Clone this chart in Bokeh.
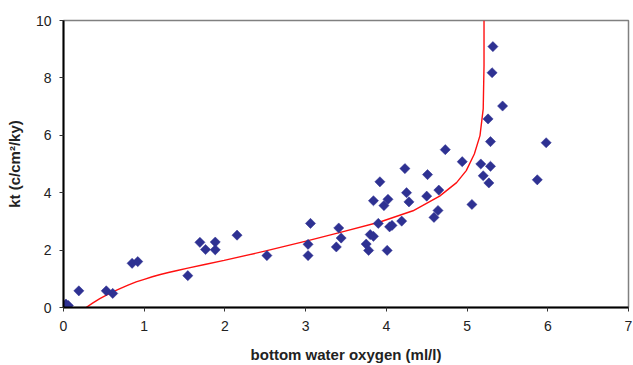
import numpy as np
from bokeh.plotting import figure
from bokeh.models import Range1d, FixedTicker, ColumnDataSource
from bokeh.embed import file_html
from bokeh.resources import INLINE

# Observed data (bottom water oxygen vs kt)
oxygen = [0.03, 0.06, 0.19, 0.53, 0.61, 0.85, 0.92, 1.54, 1.69, 1.76, 1.88, 1.88,
          2.15, 2.52, 3.03, 3.03, 3.06, 3.38, 3.41, 3.44, 3.75, 3.78, 3.80, 3.84,
          3.84, 3.90, 3.92, 3.97, 4.01, 4.02, 4.04, 4.07, 4.19, 4.23, 4.25, 4.28,
          4.50, 4.51, 4.59, 4.64, 4.65, 4.73, 4.94, 5.06, 5.17, 5.20, 5.26, 5.27,
          5.29, 5.29, 5.31, 5.32, 5.44, 5.87, 5.98]
kt = [0.12, 0.07, 0.58, 0.58, 0.49, 1.54, 1.60, 1.11, 2.27, 2.02, 2.28, 2.01,
      2.52, 1.81, 2.20, 1.81, 2.93, 2.11, 2.77, 2.42, 2.21, 1.99, 2.54, 2.48,
      3.72, 2.93, 4.38, 3.55, 1.99, 3.77, 2.81, 2.86, 3.01, 4.84, 4.00, 3.68,
      3.88, 4.63, 3.14, 3.38, 4.09, 5.50, 5.08, 3.59, 5.00, 4.59, 6.57, 4.34,
      5.78, 4.92, 8.18, 9.09, 7.02, 4.45, 5.74]

# Fitted curve
fit_x = [0.28, 0.36, 0.45, 0.59, 0.70, 0.80, 0.90, 1.00, 1.10, 1.20, 1.30, 1.41,
         1.54, 1.75, 1.99, 2.52, 3.03, 3.43, 3.92, 4.33, 4.66, 4.87, 4.99, 5.09,
         5.16, 5.20, 5.21, 5.21]
fit_y = [0.00, 0.15, 0.31, 0.52, 0.66, 0.78, 0.89, 0.98, 1.07, 1.15, 1.22, 1.29,
         1.37, 1.50, 1.64, 1.98, 2.33, 2.62, 2.98, 3.37, 3.88, 4.35, 4.77, 5.35,
         5.99, 6.92, 8.43, 10.0]

x_ticks = [0, 1, 2, 3, 4, 5, 6, 7]
y_ticks = [0, 2, 4, 6, 8, 10]

FONT = "Liberation Sans"

p = figure(width=633, height=365, output_backend="svg", toolbar_location=None,
           x_range=Range1d(0, 7), y_range=Range1d(0, 10),
           min_border_left=63, min_border_right=5, min_border_top=20, min_border_bottom=58)
p.background_fill_color = "white"
p.border_fill_color = "white"
p.outline_line_color = "#808080"
p.outline_line_width = 1.5
p.xgrid.visible = False
p.ygrid.visible = False

p.line(fit_x, fit_y, line_color="#FF1010", line_width=1.4)

src = ColumnDataSource(dict(x=oxygen, y=kt))
p.scatter("x", "y", source=src, marker="square", angle=np.pi / 4, size=7.2,
          fill_color="#2E3192", line_color="#2E3192", line_width=0.5)

for ax, ticks in ((p.xaxis[0], x_ticks), (p.yaxis[0], y_ticks)):
    ax.ticker = FixedTicker(ticks=ticks)
    ax.minor_tick_line_color = None
    ax.axis_line_color = "black"
    ax.axis_line_width = 2
    ax.major_tick_line_color = "#333333"
    ax.major_tick_in = 0
    ax.major_tick_out = 4
    ax.major_label_text_font = FONT
    ax.major_label_text_font_size = "14px"
    ax.major_label_text_color = "#222222"
    ax.axis_label_text_font = FONT
    ax.axis_label_text_font_size = "15px"
    ax.axis_label_text_font_style = "bold"
    ax.axis_label_text_color = "#222222"

p.xaxis.axis_label = "bottom water oxygen (ml/l)"
p.yaxis.axis_label = "kt (c/cm\u00b2/ky)"
p.xaxis.major_label_standoff = 9
p.xaxis.axis_label_standoff = 12
p.yaxis.major_label_standoff = 8
p.yaxis.axis_label_standoff = 10

open("out.html", "w").write(file_html(p, INLINE))
